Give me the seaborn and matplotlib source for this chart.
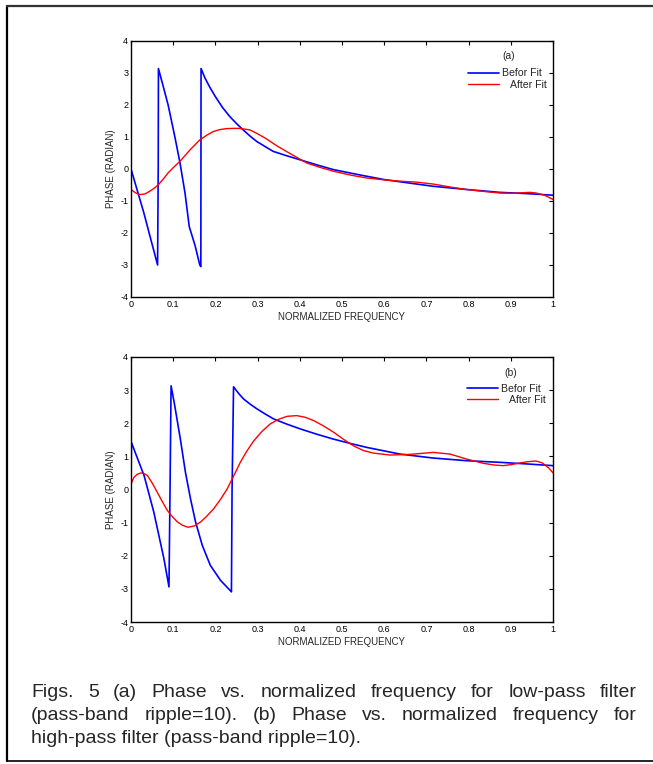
import numpy as np
import pandas as pd
import matplotlib
matplotlib.use("Agg")
import matplotlib.pyplot as plt
import seaborn as sns
from matplotlib.lines import Line2D

# ---------------- data ----------------
# Panel (a): low-pass filter
a_before_x = [0.0, 0.03, 0.063, 0.0645, 0.065, 0.076, 0.088, 0.096, 0.104, 0.116, 0.128, 0.138,
              0.152, 0.163, 0.1655, 0.166, 0.175, 0.187, 0.2, 0.217, 0.234, 0.25, 0.266, 0.282, 0.298,
              0.318, 0.337, 0.37, 0.4, 0.44, 0.48, 0.54, 0.6, 0.66, 0.716, 0.795, 0.874, 0.94, 1.0]
a_before_y = [0.0, -1.35, -3.0, 0.0, 3.14, 2.6, 2.0, 1.5, 1.0, 0.2, -0.75, -1.8,
              -2.4, -3.0, -3.05, 3.14, 2.85, 2.55, 2.26, 1.92, 1.64, 1.42, 1.22, 1.03, 0.86,
              0.7, 0.55, 0.41, 0.29, 0.13, -0.02, -0.18, -0.33, -0.44, -0.54, -0.64, -0.73, -0.77, -0.82]
a_after_x = [0.0, 0.01, 0.021, 0.033, 0.045, 0.055, 0.065, 0.076, 0.088, 0.1, 0.116, 0.128, 0.14,
             0.152, 0.163, 0.18, 0.195, 0.21, 0.225, 0.242, 0.255, 0.268, 0.282, 0.3, 0.32,
             0.345, 0.368, 0.392, 0.416, 0.448, 0.48, 0.52, 0.558, 0.6, 0.637,
             0.676, 0.716, 0.755, 0.795, 0.835, 0.874, 0.905, 0.929, 0.945, 0.96, 0.98, 1.0]
a_after_y = [-0.64, -0.74, -0.8, -0.78, -0.69, -0.6, -0.49, -0.32, -0.12, 0.04, 0.24, 0.42, 0.6,
             0.76, 0.91, 1.06, 1.17, 1.23, 1.26, 1.27, 1.27, 1.25, 1.22, 1.1, 0.95,
             0.73, 0.55, 0.37, 0.19, 0.05, -0.07, -0.19, -0.28, -0.34, -0.38,
             -0.41, -0.47, -0.56, -0.64, -0.7, -0.75, -0.76, -0.74, -0.73, -0.75, -0.82, -0.95]

# Panel (b): high-pass filter
b_before_x = [0.0, 0.001, 0.015, 0.031, 0.054, 0.078, 0.09, 0.0925, 0.095, 0.103, 0.11, 0.117,
              0.129, 0.141, 0.153, 0.169, 0.188, 0.212, 0.238, 0.2395, 0.243, 0.255, 0.267, 0.283,
              0.299, 0.318, 0.338, 0.37, 0.401, 0.44, 0.48, 0.52, 0.559, 0.637, 0.716, 0.795,
              0.874, 0.94, 1.0]
b_before_y = [0.0, 1.42, 0.95, 0.42, -0.68, -2.09, -2.94, 0.0, 3.13, 2.58, 2.05, 1.52,
              0.52, -0.28, -0.98, -1.69, -2.29, -2.74, -3.09, 0.0, 3.1, 2.9, 2.73, 2.57,
              2.43, 2.28, 2.13, 1.97, 1.83, 1.67, 1.52, 1.39, 1.27, 1.07, 0.95, 0.87,
              0.82, 0.77, 0.72]
b_after_x = [0.0, 0.007, 0.015, 0.023, 0.031, 0.039, 0.05, 0.062, 0.074, 0.086, 0.098, 0.11,
             0.122, 0.135, 0.15, 0.165, 0.18, 0.196, 0.212, 0.228, 0.243, 0.259, 0.275,
             0.291, 0.31, 0.33, 0.35, 0.37, 0.393, 0.413, 0.433, 0.456, 0.48, 0.503, 0.527,
             0.55, 0.574, 0.614, 0.661, 0.716, 0.756, 0.795, 0.835, 0.86, 0.882, 0.9, 0.921,
             0.94, 0.96, 0.975, 0.99, 1.0]
b_after_y = [0.17, 0.37, 0.46, 0.5, 0.48, 0.42, 0.2, -0.08, -0.36, -0.63, -0.82, -0.98,
             -1.08, -1.14, -1.1, -0.98, -0.8, -0.58, -0.3, 0.02, 0.4, 0.82, 1.17,
             1.47, 1.75, 1.98, 2.12, 2.21, 2.23, 2.18, 2.08, 1.92, 1.73, 1.52, 1.32,
             1.18, 1.1, 1.04, 1.06, 1.12, 1.07, 0.92, 0.79, 0.74, 0.72, 0.75, 0.8,
             0.84, 0.86, 0.8, 0.65, 0.5]

x_ticks = [0, 0.1, 0.2, 0.3, 0.4, 0.5, 0.6, 0.7, 0.8, 0.9, 1]
x_tick_labels = ["0", "0.1", "0.2", "0.3", "0.4", "0.5", "0.6", "0.7", "0.8", "0.9", "1"]
y_ticks = [-4, -3, -2, -1, 0, 1, 2, 3, 4]
series_names = ["Befor Fit", "   After Fit"]
panel_tags = ["(a)", "(b)"]
x_label = "NORMALIZED FREQUENCY"
y_label = "PHASE (RADIAN)"
caption_lines = [
    "Figs. 5 (a) Phase vs. normalized frequency for low-pass filter",
    "(pass-band ripple=10). (b) Phase vs. normalized frequency for",
    "high-pass filter (pass-band ripple=10).",
]

# ---------------- style ----------------
sns.set_style("white")
plt.rcParams["font.family"] = ["Liberation Sans", "DejaVu Sans"]
plt.rcParams["axes.unicode_minus"] = False
plt.rcParams["xtick.direction"] = "in"
plt.rcParams["ytick.direction"] = "in"

W, H = 653, 764
fig = plt.figure(figsize=(W / 100, H / 100), dpi=100)
fig.patch.set_facecolor("white")

def ax_rect(l, t, r, b):
    return [l / W, 1 - b / H, (r - l) / W, (b - t) / H]

panels = [
    (ax_rect(131, 41, 553, 297), a_before_x, a_before_y, a_after_x, a_after_y, (0.799, 0.893), (0.895, 0.94)),
    (ax_rect(131, 357, 553, 622), b_before_x, b_before_y, b_after_x, b_after_y, (0.797, 0.90), (0.9, 0.94)),
]

tick_fs = 6.5
for i, (rect, bx, by, axx, ayy, leg_anchor, tag_pos) in enumerate(panels):
    ax = fig.add_axes(rect)
    dfb = pd.DataFrame({"x": bx, "y": by})
    dfa = pd.DataFrame({"x": axx, "y": ayy})
    sns.lineplot(data=dfb, x="x", y="y", ax=ax, color="#0000ff", lw=1.2,
                 sort=False, estimator=None, label=series_names[0])
    sns.lineplot(data=dfa, x="x", y="y", ax=ax, color="#ff0000", lw=1.0,
                 sort=False, estimator=None, label=series_names[1])
    ax.set_xlim(0, 1)
    ax.set_ylim(-4, 4)
    ax.set_xticks(x_ticks)
    ax.set_xticklabels(x_tick_labels)
    ax.set_yticks(y_ticks)
    ax.tick_params(axis="both", which="both", direction="in", length=3, width=0.8,
                   top=True, right=True, labelsize=tick_fs, pad=2, colors="black")
    for s in ax.spines.values():
        s.set_visible(True)
        s.set_color("black")
        s.set_linewidth(1.0)
    ax.set_xlabel(x_label, fontsize=7, labelpad=2)
    ax.set_ylabel(y_label, fontsize=7, labelpad=3)
    leg = ax.legend(loc="upper left", bbox_to_anchor=leg_anchor, frameon=False,
                    fontsize=7.6, handlelength=2.9, handletextpad=0.3,
                    labelspacing=0.12, borderaxespad=0, borderpad=0)
    ax.text(tag_pos[0], tag_pos[1], panel_tags[i], transform=ax.transAxes, fontsize=7.4,
            ha="center", va="center")

# outer frame (right side is cut off in the reference)
fig.add_artist(Line2D([6.5 / W, 6.5 / W], [1 - 6 / H, 1 - 761 / H], transform=fig.transFigure,
                      color="black", lw=1.6))
fig.add_artist(Line2D([6.5 / W, 1.0], [1 - 6 / H, 1 - 6 / H], transform=fig.transFigure,
                      color="#333333", lw=1.6))
fig.add_artist(Line2D([6.5 / W, 1.0], [1 - 761 / H, 1 - 761 / H], transform=fig.transFigure,
                      color="black", lw=1.2))

# caption, justified
fig.canvas.draw()
renderer = fig.canvas.get_renderer()
left_px, right_px = 31, 637
baselines = [697, 720, 743]
cap_fs = 14.0
for li, (line, base) in enumerate(zip(caption_lines, baselines)):
    words = line.split(" ")
    y = 1 - base / H
    if li == len(caption_lines) - 1:
        fig.text(left_px / W, y, line, fontsize=cap_fs, ha="left", va="baseline")
        continue
    texts = [fig.text(0, y, w_, fontsize=cap_fs, ha="left", va="baseline") for w_ in words]
    widths = [t.get_window_extent(renderer).width for t in texts]
    gap = (right_px - left_px - sum(widths)) / (len(words) - 1)
    xpos = left_px
    for t, wdt in zip(texts, widths):
        t.set_x(xpos / W)
        xpos += wdt + gap

fig.savefig("out.png", dpi=100, facecolor="white")
